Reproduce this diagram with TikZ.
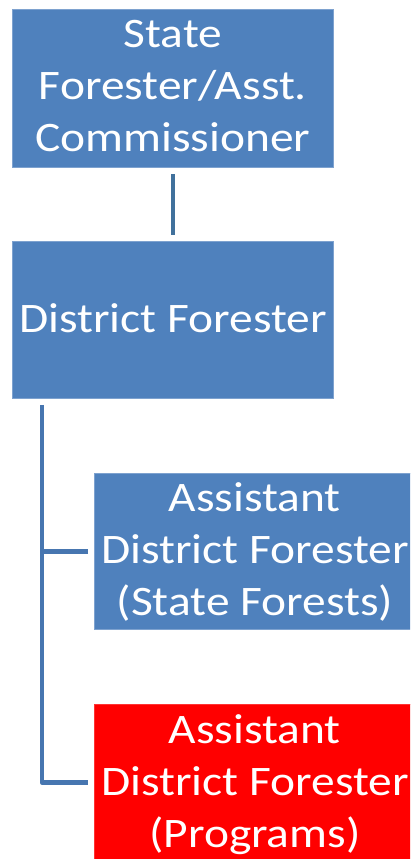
\documentclass[tikz,border=0pt]{standalone}
\usepackage{fontspec}
\setmainfont{Carlito}[FakeStretch=1.13]
\definecolor{boxblue}{HTML}{4F81BD}
\definecolor{boxedge}{HTML}{7EA2CF}
\definecolor{connblue}{HTML}{4776B0}
\definecolor{topconn}{HTML}{41719C}
\definecolor{boxred}{HTML}{FF0000}
\newcommand{\tophgt}{\rule{0pt}{38pt}}
\newcommand{\botdep}[1]{\rule[-#1]{0pt}{#1}}
\tikzset{
  box/.style={draw=boxedge, line width=0.8pt, fill=boxblue, text=white,
    minimum width=321pt, minimum height=157pt, align=center, inner sep=0pt,
    anchor=north west, font=\fontsize{42}{52}\selectfont},
  redbox/.style={box, fill=boxred, draw=boxred!80!white},
  conn/.style={draw=connblue, line width=4.5pt, line join=round},
  topline/.style={draw=topconn, line width=4.5pt}
}
\begin{document}
\begin{tikzpicture}[x=1pt,y=-1pt]
\useasboundingbox (0,0) rectangle (410,859);
\clip (0,0) rectangle (410,859);
\node[box] (b1) at (12,9) {\tophgt State\\Forester/Asst.\\Commissioner\botdep{16.4pt}};
\node[box] (b2) at (12,241) {\tophgt District Forester\botdep{12.4pt}};
\node[box, minimum height=156pt] (b3) at (94,473) {\tophgt Assistant\\District Forester\\(State Forests)\botdep{13.4pt}};
\node[redbox, minimum height=156pt] (b4) at (94,704) {\tophgt Assistant\\District Forester\\(Programs)\botdep{11.2pt}};
\draw[topline, shorten <=6pt, shorten >=6pt] (b1.south) -- (b2.north);
\coordinate (spine) at ([xshift=30pt,yshift=-6pt]b2.south west);
\draw[conn] (spine) |- ([xshift=-6pt]b4.west);
\draw[conn] ([xshift=-6pt]b3.west) -- (spine |- b3.west);
\end{tikzpicture}
\end{document}
